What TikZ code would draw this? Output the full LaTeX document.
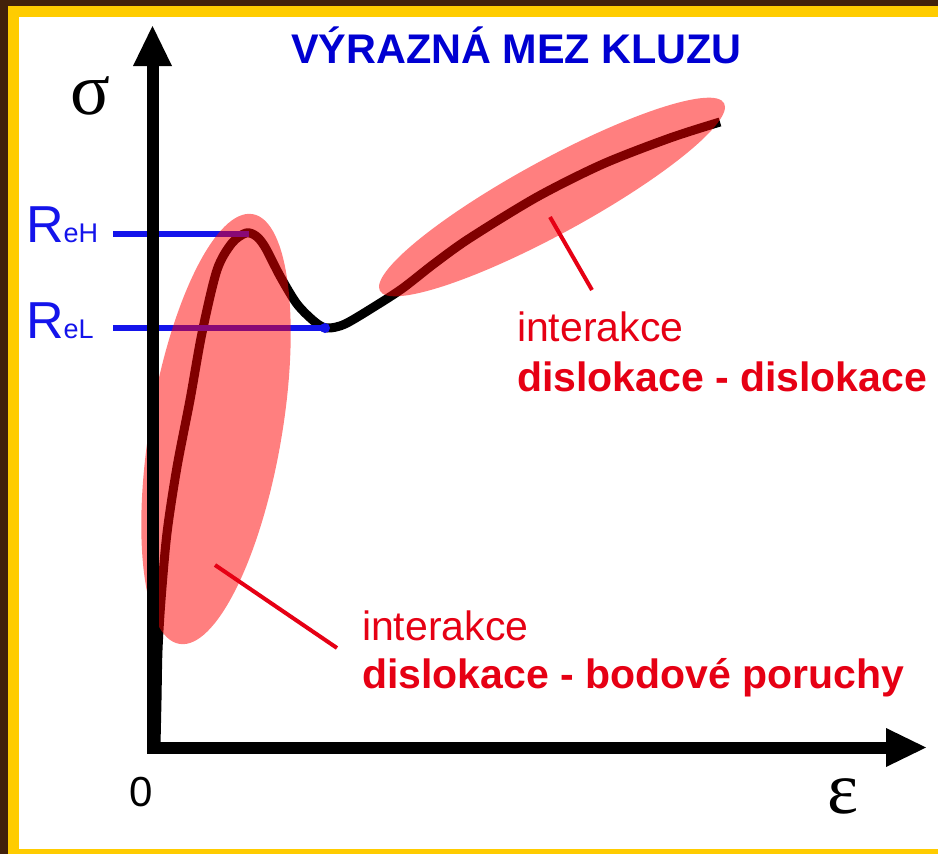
\documentclass[tikz,border=0pt]{standalone}
\usepackage{fontspec}
\setmainfont{Liberation Sans}
\newfontfamily\grk{Liberation Serif}
\usetikzlibrary{shapes.geometric}
\definecolor{frameBrown}{RGB}{66,33,11}
\definecolor{frameYellow}{RGB}{255,204,0}
\definecolor{ttlblue}{RGB}{0,0,210}
\definecolor{lblblue}{RGB}{20,20,235}
\definecolor{txtred}{RGB}{230,0,20}
\tikzset{
  txt/.style={anchor=base west, inner sep=0pt, outer sep=0pt},
  regtxt/.style={txt, text=txtred, font=\fontsize{41}{49}\selectfont},
  boldtxt/.style={txt, text=txtred, font=\bfseries\fontsize{41}{49}\selectfont},
  blob/.style={ellipse, fill=red, fill opacity=0.5, inner sep=0pt, draw=none},
  levelline/.style={draw=lblblue, line width=6pt},
  pointer/.style={draw=txtred, line width=4pt},
  curveline/.style={line width=9pt, line join=round},
  axisline/.style={line width=12pt, line join=miter},
  greek/.style={inner sep=0pt, font=\grk\fontsize{74}{80}\selectfont}
}
\begin{document}
\begin{tikzpicture}[x=1pt,y=-1pt]
\useasboundingbox (0,0) rectangle (938,854);
% frame
\fill[frameBrown] (0,0) rectangle (938,854);
\fill[frameYellow] (8,6) rectangle (938,854);
\fill[white] (19,17) rectangle (938,849);

% title
\node[txt, text=ttlblue, font=\bfseries\fontsize{41.4}{50}\selectfont] (title) at (291,63) {VÝRAZNÁ MEZ KLUZU};

% stress-strain curve
\draw[curveline] plot[smooth, tension=0.5] coordinates {
 (156,745) (157,700) (158,650) (161,600) (167,533) (177,467) (190,400)
 (202,333) (217,270) (232,243) (246,233) (256,236) (265,247) (280,276)
 (297,304) (315,322) (327,328) (345,324) (377,305) (403,288) (435,263)
 (470,238) (537,197) (603,164) (670,138) (720,122)};

% yield level lines
\node[txt, text=lblblue] (reh) at (26,242) {\fontsize{52}{60}\selectfont R\fontsize{27}{30}\selectfont eH};
\node[txt, text=lblblue] (rel) at (26,338) {\fontsize{52}{60}\selectfont R\fontsize{27}{30}\selectfont eL};
\coordinate (rehS) at (113,233.5);
\coordinate (rehE) at (249,233.5);
\coordinate (relS) at (113,328);
\coordinate (relE) at (325,328);
\draw[levelline] (rehS) -- (rehE);
\draw[levelline] (relS) -- (relE);
\fill[lblblue] (relE) circle (5);

% highlight ellipses
\node[blob, minimum width=436, minimum height=132, rotate=80.3] (e1) at (216,429) {};
\node[blob, minimum width=392, minimum height=74, rotate=28.6] (e2) at (552,197) {};

% annotations
\node[regtxt] (t1a) at (517,341) {interakce};
\node[boldtxt] (t1b) at (517,391) {dislokace - dislokace};
\node[regtxt] (t2a) at (362,640) {interakce};
\node[boldtxt] (t2b) at (362,688) {dislokace - bodové poruchy};
\coordinate (p1s) at (550,217);
\coordinate (p1e) at (592,290);
\coordinate (p2s) at (215,565);
\coordinate (p2e) at (337,648);
\draw[pointer] (p1s) -- (p1e);
\draw[pointer] (p2s) -- (p2e);

% axes
\coordinate (O) at (152.5,747.5);
\coordinate (ybase) at (152.5,65);
\coordinate (xbase) at (887,747.5);
\draw[axisline] (ybase) -- (O) -- (xbase);
\fill (152.5,26) -- (172,66) -- (133,66) -- cycle;
\fill (926,747.5) -- (886,728) -- (886,767) -- cycle;

% axis labels
\node[greek] (sig) at (90,96) {σ};
\node[greek] (eps) at (843,796) {ε};
\node[inner sep=0pt, font=\fontsize{42}{50}\selectfont] (zero) at (141,792) {0};
\end{tikzpicture}
\end{document}
